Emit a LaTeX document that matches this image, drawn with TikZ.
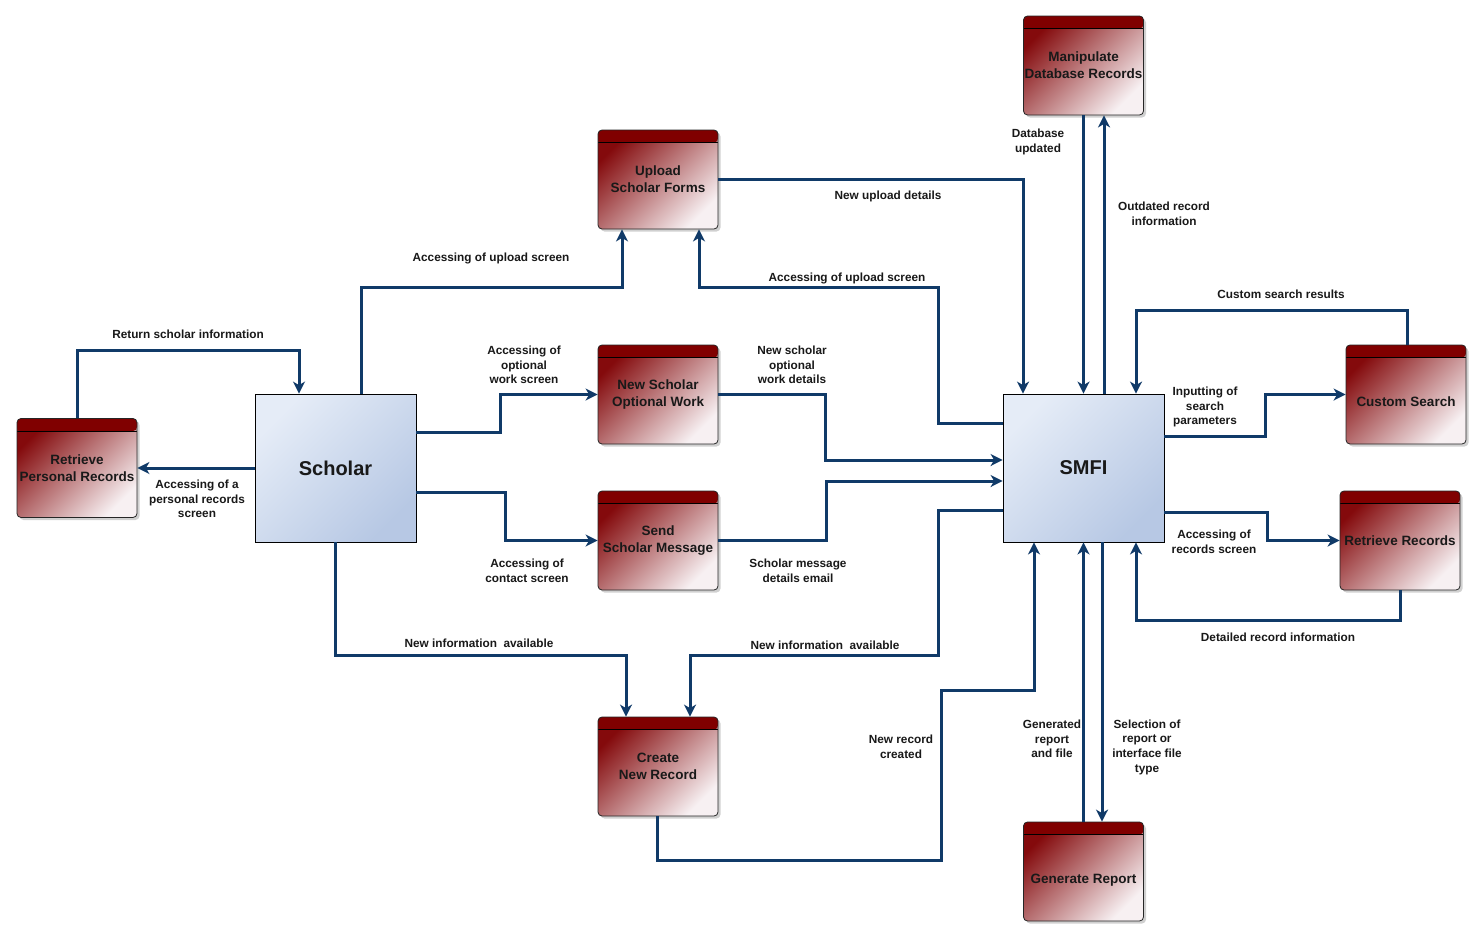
\documentclass[tikz,border=0pt]{standalone}
\usepackage{fontspec}
\setmainfont{Liberation Sans}
\usetikzlibrary{arrows.meta,shadows}

\definecolor{flowblue}{RGB}{16,58,104}
\definecolor{headred}{RGB}{128,0,0}
\definecolor{bodyred}{RGB}{132,10,12}
\definecolor{bodylight}{RGB}{247,240,242}
\definecolor{entlight}{RGB}{229,236,247}
\definecolor{entdark}{RGB}{183,200,228}

\tikzset{
  proc/.style={draw=black!85, line width=0.8pt, rounded corners=4pt,
    minimum width=120pt, minimum height=99pt, inner sep=0pt, align=center,
    top color=bodyred, bottom color=bodylight, shading angle=45,
    font=\bfseries\fontsize{13.5}{17}\selectfont, text=black!90,
    drop shadow={shadow xshift=2.5pt, shadow yshift=-2.5pt, opacity=0.3, fill=black!60},
    path picture={
      \fill[headred] (path picture bounding box.north west) rectangle
        ([yshift=-12.5pt]path picture bounding box.north east);
      \draw[black, line width=0.6pt]
        ([yshift=-12.5pt]path picture bounding box.north west) --
        ([yshift=-12.5pt]path picture bounding box.north east);}},
  lowtext/.style={text height=26pt, text depth=3pt},
  entity/.style={draw=black, line width=0.8pt, minimum width=161pt, minimum height=148pt,
    inner sep=0pt, top color=entlight, bottom color=entdark, shading angle=45,
    font=\bfseries\fontsize{20}{24}\selectfont, text=black!90},
  flow/.style={draw=flowblue, line width=3pt, -{Stealth[length=12pt,width=12pt,inset=3.5pt]}},
  lbl/.style={align=center, font=\bfseries\fontsize{11.8}{14.7}\selectfont, text=black!90, inner sep=0pt},
}

\begin{document}
\begin{tikzpicture}[x=1pt,y=-1pt]
  \fill[white] (0,0) rectangle (1483,937);
  \useasboundingbox (0,0) rectangle (1483,937);

  % external entities
  \node[entity] (sch)  at (335.5,468) {Scholar};
  \node[entity] (smfi) at (1083.5,468) {SMFI};

  % processes
  \node[proc] (upl)  at (658,179.5) {Upload\\Scholar Forms};
  \node[proc] (nsow) at (658,394.5) {New Scholar\\Optional Work};
  \node[proc] (ssm)  at (658,540.5) {Send\\Scholar Message};
  \node[proc] (cnr)  at (658,766.5) {Create\\New Record};
  \node[proc] (mdr)  at (1083.5,65.5) {Manipulate\\Database Records};
  \node[proc,lowtext] (cs) at (1406,394.5) {Custom Search};
  \node[proc] (rr)   at (1400,540.5) {Retrieve Records};
  \node[proc,lowtext] (gr) at (1083.5,871.5) {Generate Report};
  \node[proc] (rpr)  at (77,468) {Retrieve\\Personal Records};

  % data flows
  \draw[flow] ([xshift=25.5pt]sch.north) -- (361,287) -- (622,287) -- ([xshift=-36pt]upl.south);
  \draw[flow] ([yshift=45pt]smfi.west) -- (938,423) -- (938,287) -- (699,287) -- ([xshift=41pt]upl.south);
  \draw[flow] (upl.east) -- (1023,179.5) -- ([xshift=-60.5pt]smfi.north);
  \draw[flow] (mdr.south) -- (smfi.north);
  \draw[flow] ([xshift=20.5pt]smfi.north) -- ([xshift=20.5pt]mdr.south);
  \draw[flow] ([xshift=1pt]cs.north) -- (1407,310) -- (1136,310) -- ([xshift=52.5pt]smfi.north);
  \draw[flow] ([yshift=32pt]smfi.east) -- (1265,436) -- (1265,394.5) -- (cs.west);
  \draw[flow] ([yshift=-44pt]smfi.east) -- (1267,512) -- (1267,540.5) -- (rr.west);
  \draw[flow] (rr.south) -- (1400,620) -- (1136,620) -- ([xshift=52.5pt]smfi.south);
  \draw[flow] (gr.north) -- (smfi.south);
  \draw[flow] ([xshift=18.5pt]smfi.south) -- ([xshift=18.5pt]gr.north);
  \draw[flow] ([xshift=-1pt]cnr.south) -- (657,860) -- (941,860) -- (941,690) -- (1034,690) -- ([xshift=-49.5pt]smfi.south);
  \draw[flow] ([yshift=-42pt]smfi.west) -- (938,510) -- (938,655) -- (690,655) -- ([xshift=32pt]cnr.north);
  \draw[flow] (sch.south) -- (335.5,655) -- (626,655) -- ([xshift=-32pt]cnr.north);
  \draw[flow] ([yshift=36pt]sch.east) -- (500,432) -- (500,394.5) -- (nsow.west);
  \draw[flow] (nsow.east) -- (825,394.5) -- (825,460) -- ([yshift=8pt]smfi.west);
  \draw[flow] ([yshift=-24pt]sch.east) -- (505,492) -- (505,540.5) -- (ssm.west);
  \draw[flow] (ssm.east) -- (826,540.5) -- (826,481) -- ([yshift=-13pt]smfi.west);
  \draw[flow] (sch.west) -- (rpr.east);
  \draw[flow] (rpr.north) -- (77,350) -- (299,350) -- ([xshift=-36.5pt]sch.north);

  % flow labels
  \node[lbl] (t1)  at (491,258) {Accessing of upload screen};
  \node[lbl] (t2)  at (847,278) {Accessing of upload screen};
  \node[lbl] (t3)  at (888,196) {New upload details};
  \node[lbl] (t4)  at (1038,142) {Database\\updated};
  \node[lbl] (t5)  at (1164,214) {Outdated record\\information};
  \node[lbl] (t6)  at (1281,294) {Custom search results};
  \node[lbl] (t7)  at (1205,407) {Inputting of\\search\\parameters};
  \node[lbl] (t8)  at (1214,542) {Accessing of\\records screen};
  \node[lbl] (t9)  at (1278,637) {Detailed record information};
  \node[lbl] (t10) at (1052,739) {Generated\\report\\and file};
  \node[lbl] (t11) at (1147,747) {Selection of\\report or\\interface file\\type};
  \node[lbl] (t12) at (901,747) {New record\\created};
  \node[lbl] (t13) at (825,645) {New information\ \ available};
  \node[lbl] (t14) at (479,643) {New information\ \ available};
  \node[lbl] (t15) at (524,365) {Accessing of\\optional\\work screen};
  \node[lbl] (t16) at (792,365) {New scholar\\optional\\work details};
  \node[lbl] (t17) at (527,571) {Accessing of\\contact screen};
  \node[lbl] (t18) at (798,571) {Scholar message\\details email};
  \node[lbl] (t19) at (197,499) {Accessing of a\\personal records\\screen};
  \node[lbl] (t20) at (188,334) {Return scholar information};
\end{tikzpicture}
\end{document}
